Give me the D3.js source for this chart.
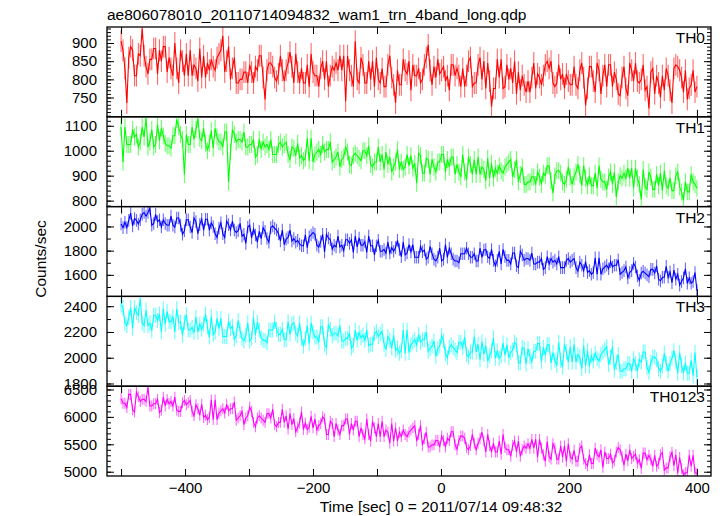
<!DOCTYPE html>
<html><head><meta charset="utf-8">
<script src="https://cdn.jsdelivr.net/npm/d3@7"></script>
<style>body{margin:0;background:#fff} text{font-family:"Liberation Sans",Arial,Helvetica,sans-serif;fill:#000}</style>
</head><body><svg id="c" width="724" height="516"></svg>
<script>
const titleText = "ae806078010_20110714094832_wam1_trn_4band_long.qdp";
const xLabelText = "Time [sec] 0 = 2011/07/14 09:48:32";
const yLabelText = "Counts/sec";
const panelNames = ["TH0", "TH1", "TH2", "TH3", "TH0123"];
const colors = ["#ff0000", "#00ff00", "#0000ff", "#00ffff", "#ff00ff"];
const binStart = -500, binSize = 3;

const th0 = [905,880,830,735,860,890,880,810,810,870, 865,940,865,835,815,855,855,885,885,815,
880,850,890,890,820,860,830,810,900,830, 790,880,850,810,870,810,880,810,840,830,
795,885,805,865,805,845,825,855,835,825, 860,870,880,920,820,850,890,800,830,860,
790,790,800,800,820,820,790,840,820,790, 835,825,865,865,805,745,825,845,845,835,
805,795,815,865,825,795,825,845,875,835, 790,870,820,790,830,790,790,840,780,870,
820,810,810,780,830,850,800,850,780,810, 835,825,845,825,865,825,865,740,865,825,
810,780,905,800,790,860,840,790,790,850, 800,850,780,860,800,790,830,780,780,840,
865,805,785,735,825,785,785,855,825,815, 850,770,840,810,810,830,790,800,840,860,
895,825,785,835,805,855,815,825,835,795, 810,770,840,840,810,830,810,780,830,780,
810,850,860,780,790,790,840,860,800,850, 775,845,795,725,775,775,855,805,855,775,
780,840,800,830,790,850,760,820,770,810, 785,765,795,765,805,845,775,815,805,785,
810,840,850,830,850,790,780,790,840,800, 815,775,815,795,785,785,835,785,775,825,
845,805,728,775,835,835,795,765,845,825, 760,810,840,780,840,840,780,820,800,760,
755,805,835,775,755,845,825,795,845,795, 790,800,840,770,780,720,820,830,760,810,
790,750,810,770,830,810,770,735,830,840, 835,825,805,765,825,745,775,785,825,765, 780];

const th1 = [1095,955,1095,1025,1025,1025,1085,1055,1065,1015, 1035,1095,1055,1130,1015,1035,1085,1015,1025,1105,
1040,1090,1060,1030,1020,1020,1010,1060,1060,1125, 1095,1065,1045,905,1065,1025,1025,1095,1045,1085,
1130,1050,1040,1090,1030,1000,1030,1080,1010,1090, 1055,1035,1035,1015,1075,1075,875,995,1085,1065,
1035,1045,1045,1035,1075,1015,1015,1025,1025,1045, 975,985,1045,1005,1035,1015,1025,1005,1045,985,
985,985,1025,1035,1015,1025,1035,985,965,1015, 1010,980,1030,970,980,960,970,1050,960,1050,
955,985,995,1005,985,1025,995,1005,1005,1035, 955,965,975,995,935,965,975,1015,995,945,
940,980,990,980,970,960,1000,1000,980,1020, 945,935,955,955,1015,955,985,925,995,945,
975,915,935,955,1005,925,955,925,935,985, 940,980,930,950,870,990,980,910,910,970,
965,905,965,935,915,955,955,985,985,915, 965,935,975,975,905,945,915,895,985,915,
885,975,945,905,965,905,975,905,935,925, 880,970,890,950,890,930,910,940,920,910,
935,945,955,965,895,925,965,875,905,935, 865,865,875,875,895,895,865,915,895,865,
910,900,940,940,880,830,900,920,920,910, 875,865,885,935,895,865,895,915,945,905,
860,940,890,860,900,860,860,910,850,940, 885,875,875,845,895,915,865,915,815,875,
900,890,910,890,930,890,930,850,930,890, 865,805,925,855,845,915,895,845,845,905,
860,910,840,920,860,850,890,840,840,900, 915,855,835,800,875,835,835,905,875,865, 850];

const th2 = [2020,1990,2035,1990,2050,2110,2005,2065,2050,2020, 2055,2100,2115,2085,2115,2150,2010,2025,2100,2040,
2055,1995,2055,2025,2010,2010,2085,2010,1995,2070, 2070,2010,1935,1965,2055,2055,1995,1950,2070,2040,
1940,2015,2060,1970,2060,2060,1970,2030,2000,1940, 1910,1985,2030,1940,1910,2045,2015,1970,2045,1970,
1950,1965,2025,1920,1935,1860,1995,2010,1905,1980, 1930,1870,1960,1900,1990,1960,1900,1870,1990,2005,
1985,1970,1940,1880,1970,1850,1895,1910,1970,1880, 1900,1870,1885,1855,1840,1840,1930,1825,1915,1930,
1950,1935,1845,1830,1875,1935,1790,1935,1905,1890, 1815,1845,1830,1920,1830,1845,1800,1890,1890,1860,
1890,1785,1920,1830,1905,1845,1845,1875,1785,1920, 1840,1840,1765,1840,1885,1795,1795,1810,1780,1870,
1780,1825,1795,1825,1885,1810,1750,1870,1765,1780, 1850,1790,1850,1745,1745,1745,1835,1790,1805,1730,
1745,1835,1775,1730,1715,1745,1820,1715,1730,1850, 1745,1820,1775,1730,1715,1715,1700,1775,1775,1775,
1820,1775,1745,1745,1775,1715,1715,1820,1745,1805, 1810,1750,1735,1810,1720,1675,1720,1795,1690,1810,
1750,1720,1720,1690,1780,1780,1675,1660,1795,1765, 1720,1735,1735,1720,1780,1690,1690,1705,1705,1735,
1645,1660,1750,1690,1735,1705,1720,1690,1750,1660, 1660,1660,1720,1735,1705,1720,1735,1660,1630,1705,
1680,1635,1710,1620,1635,1605,1620,1740,1605,1740, 1605,1650,1665,1680,1650,1710,1665,1680,1680,1725,
1605,1620,1635,1665,1575,1620,1635,1695,1665,1590, 1555,1615,1630,1615,1600,1585,1645,1645,1615,1675,
1565,1550,1580,1580,1670,1580,1625,1535,1640,1565, 1605,1515,1545,1575,1650,1530,1575,1530,1545,1620, 1470];

const th3 = [2410,2390,2270,2250,2310,2390,2230,2390,2350,2330, 2460,2270,2250,2370,2250,2270,2210,2330,2330,2290,
2340,2200,2380,2260,2360,2280,2280,2320,2200,2380, 2275,2275,2175,2275,2335,2215,2215,2235,2195,2315,
2200,2260,2220,2260,2340,2240,2160,2320,2180,2200, 2305,2225,2305,2165,2165,2165,2285,2225,2245,2145,
2170,2290,2210,2150,2130,2170,2270,2130,2150,2310, 2175,2275,2215,2155,2135,2135,2115,2215,2215,2215,
2280,2220,2180,2180,2220,2140,2140,2280,2180,2260, 2270,2190,2170,2270,2150,2090,2150,2250,2110,2270,
2200,2160,2160,2120,2240,2240,2100,2080,2260,2220, 2170,2190,2190,2170,2250,2130,2130,2150,2150,2190,
2075,2095,2215,2135,2195,2155,2175,2135,2215,2095, 2105,2105,2185,2205,2165,2185,2205,2105,2065,2165,
2135,2075,2175,2055,2075,2035,2055,2215,2035,2215, 2040,2100,2120,2140,2100,2180,2120,2140,2140,2200,
2050,2070,2090,2130,2010,2070,2090,2170,2130,2030, 2000,2080,2100,2080,2060,2040,2120,2120,2080,2160,
2025,2005,2045,2045,2165,2045,2105,1985,2125,2025, 2095,1975,2015,2055,2155,1995,2055,1995,2015,2115,
2020,2100,2000,2040,2060,2120,2100,1960,1960,2080, 2070,1950,2070,2010,1970,2050,2050,2110,2110,1970,
2080,2020,2100,2100,1960,2040,1980,1940,2120,1980, 1925,2105,2045,1965,2085,1965,2105,1965,2025,2005,
1915,2095,1935,2055,1935,2015,1975,2035,1995,1975, 2025,2045,2065,2085,1945,2005,2085,1905,1965,2025,
1895,1895,1915,1915,1955,1955,1895,1995,1955,1895, 1985,1965,2045,2045,1925,1885,1965,2005,2005,1985,
1915,1895,1935,2035,1955,1895,1955,1995,2055,1975, 1880,2040,1940,1880,1960,1880,1880,1980,1860,2040, 1850];

const th0123 = [6330,6250,6250,6170,6410,6410,6130,6090,6450,6370, 6280,6320,6320,6280,6540,6200,6200,6240,6240,6320,
6080,6120,6360,6200,6320,6240,6280,6200,6360,6120, 6100,6100,6260,6300,6220,6260,6300,6100,6020,6220,
6150,6030,6230,5990,6030,5950,5990,6310,5950,6310, 5950,6070,6110,6150,6070,6230,6110,6150,6150,6270,
5940,5980,6020,6100,5860,5980,6020,6180,6100,5900, 5820,5980,6020,5980,5940,5900,6060,6060,5980,6140,
5860,5820,5900,5900,6140,5900,6020,5780,6060,5860, 5970,5730,5810,5890,6090,5770,5890,5770,5810,6010,
5800,5960,5760,5840,5880,6000,5960,5680,5680,5920, 5880,5640,5880,5760,5680,5840,5840,5960,5960,5680,
5880,5760,5920,5920,5640,5800,5680,5600,5960,5680, 5560,5920,5800,5640,5880,5640,5920,5640,5760,5720,
5520,5880,5560,5800,5560,5720,5640,5760,5680,5640, 5720,5760,5800,5840,5560,5680,5840,5480,5600,5720,
5450,5450,5490,5490,5570,5570,5450,5650,5570,5450, 5610,5570,5730,5730,5490,5410,5570,5650,5650,5610,
5440,5400,5480,5680,5520,5400,5520,5600,5720,5560, 5360,5680,5480,5360,5520,5360,5360,5560,5320,5680,
5440,5400,5400,5280,5480,5560,5360,5560,5280,5400, 5470,5430,5510,5430,5590,5430,5590,5270,5590,5430,
5310,5190,5550,5270,5230,5510,5430,5230,5230,5470, 5270,5470,5190,5510,5270,5230,5390,5190,5190,5430,
5470,5230,5150,5110,5310,5150,5150,5430,5310,5270, 5400,5080,5360,5240,5240,5320,5160,5200,5360,5440,
5400,5280,5120,5320,5200,5400,5240,5280,5320,5160, 5220,5060,5340,5340,5220,5300,5220,5100,5300,5100,
5150,5310,5350,5030,5070,5070,5270,5350,5110,5310, 4980,5260,5060,4940,4980,4980,5300,5100,5300,4980, 4970];

const seriesValues = [th0, th1, th2, th3, th0123];
const seriesErrors = [30, 34, 52, 58, 100];

const yDomains = [[697, 944], [776, 1136], [1422, 2164], [1779, 2476], [4922, 6560]];
const yMajorTicks = [[750, 800, 850, 900], [800, 900, 1000, 1100], [1600, 1800, 2000], [1800, 2000, 2200, 2400], [5000, 5500, 6000, 6500]];
const yMinorStep = [10, 20, 100, 100, 100];
const xLabelTicks = [-400, -200, 0, 200, 400];
const xAllTicks = [-500, -400, -300, -200, -100, 0, 100, 200, 300, 400];

const svg = d3.select("#c");
const L = 107, R = 711, T = 27, B = 476;
const nP = 5, ph = (B - T) / nP;
const x = d3.scaleLinear().domain([-522, 422]).range([L, R]);

svg.append("text").attr("x", 107).attr("y", 20).attr("font-size", 15.5).text(titleText);

seriesValues.forEach((vals, i) => {
  const top = T + i * ph, bot = top + ph;
  const y = d3.scaleLinear().domain(yDomains[i]).range([bot, top]);
  const g = svg.append("g");
  const cid = "clip" + i;
  svg.append("clipPath").attr("id", cid).append("rect").attr("x", L).attr("y", top).attr("width", R - L).attr("height", ph);
  const data = vals.map((v, k) => ({t: binStart + k * binSize, v}));
  const dg = g.append("g").attr("clip-path", `url(#${cid})`);
  dg.selectAll("line.err").data(data).join("line")
    .attr("x1", d => x(d.t)).attr("x2", d => x(d.t))
    .attr("y1", d => y(d.v - seriesErrors[i])).attr("y2", d => y(d.v + seriesErrors[i]))
    .attr("stroke", colors[i]).attr("stroke-opacity", 0.6).attr("stroke-width", 1.1);
  dg.append("path").datum(data)
    .attr("d", d3.line().x(d => x(d.t)).y(d => y(d.v)))
    .attr("fill", "none").attr("stroke", colors[i]).attr("stroke-width", 1.1);

  const minor = d3.range(Math.ceil(yDomains[i][0] / yMinorStep[i]) * yMinorStep[i], yDomains[i][1], yMinorStep[i]);
  g.append("g").attr("transform", `translate(${L},0)`)
    .call(d3.axisLeft(y).tickValues(minor).tickSize(-4).tickFormat(""))
    .call(a => a.select(".domain").remove());
  g.append("g").attr("transform", `translate(${R},0)`)
    .call(d3.axisRight(y).tickValues(minor).tickSize(-4).tickFormat(""))
    .call(a => a.select(".domain").remove());
  const ya = g.append("g").attr("transform", `translate(${L},0)`)
    .call(d3.axisLeft(y).tickValues(yMajorTicks[i]).tickSize(-7).tickPadding(10).tickFormat(d3.format("d")));
  ya.select(".domain").remove();
  ya.selectAll("text").attr("font-size", 15).attr("font-family", "Liberation Sans, Arial, sans-serif").attr("fill", "#000");
  g.append("g").attr("transform", `translate(${R},0)`)
    .call(d3.axisRight(y).tickValues(yMajorTicks[i]).tickSize(-7).tickFormat(""))
    .call(a => a.select(".domain").remove());
  g.append("g").attr("transform", `translate(0,${top})`)
    .call(d3.axisTop(x).tickValues(xAllTicks).tickSize(-7).tickFormat(""))
    .call(a => a.select(".domain").remove());
  const xb = g.append("g").attr("transform", `translate(0,${bot})`)
    .call(d3.axisBottom(x).tickValues(xAllTicks).tickSize(-7).tickPadding(6)
      .tickFormat(i === nP - 1 ? (d => xLabelTicks.includes(d) ? (d < 0 ? "\u2212" + (-d) : d) : "") : ""));
  xb.select(".domain").remove();
  xb.selectAll("text").attr("font-size", 15).attr("font-family", "Liberation Sans, Arial, sans-serif").attr("fill", "#000");
  g.selectAll(".tick line").attr("stroke", "#000").attr("stroke-width", 1);

  g.append("rect").attr("x", L).attr("y", top).attr("width", R - L).attr("height", ph)
    .attr("fill", "none").attr("stroke", "#000").attr("stroke-width", 1.3);
  g.append("text").attr("x", 705).attr("y", top + 16).attr("text-anchor", "end").attr("font-size", 15.5).text(panelNames[i]);
});

svg.append("text").attr("x", 441).attr("y", 512).attr("text-anchor", "middle").attr("font-size", 15.5).text(xLabelText);
svg.append("text").attr("transform", "translate(46,259) rotate(-90)").attr("text-anchor", "middle").attr("font-size", 15.5).text(yLabelText);
</script></body></html>
